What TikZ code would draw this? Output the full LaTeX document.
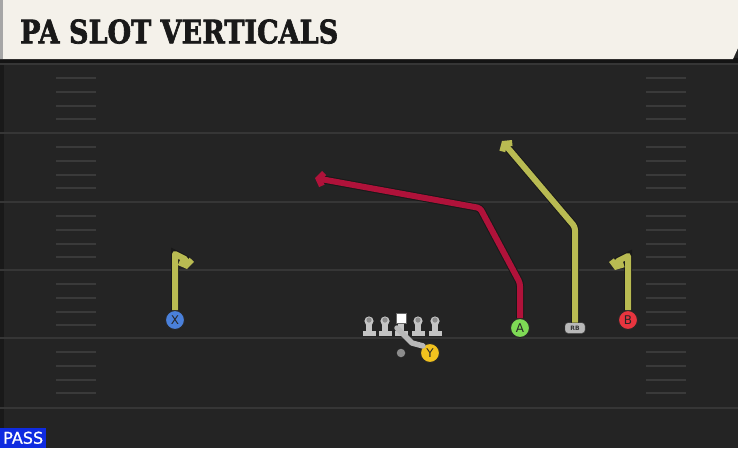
\documentclass[tikz,border=0pt]{standalone}
\usepackage{fontspec}
\setmainfont{DejaVu Sans}
\newfontfamily\titlefont{DejaVu Serif}[FakeBold=2.2]
\newfontfamily\passfont{DejaVu Sans}[FakeBold=0.8]
\usetikzlibrary{arrows.meta}
\definecolor{field}{HTML}{242424}
\definecolor{yardc}{HTML}{363636}
\definecolor{hashc}{HTML}{3A3A3A}
\definecolor{cream}{HTML}{F4F1EA}
\definecolor{yroute}{HTML}{B9BB52}
\definecolor{rroute}{HTML}{B0123A}
\definecolor{groute}{HTML}{B8B8B8}
\definecolor{xblue}{HTML}{4A80DA}
\definecolor{agreen}{HTML}{7EDA55}
\definecolor{bred}{HTML}{E8353F}
\definecolor{yyellow}{HTML}{F2C21E}
\definecolor{rbgrey}{HTML}{B8B8B8}
\definecolor{passblue}{HTML}{0F2BE0}
\definecolor{olc}{HTML}{C4C4C4}
\tikzset{
  yard/.style={draw=yardc, line width=2.2pt},
  hashmark/.style={draw=hashc, line width=1.8pt},
  player/.style={circle, draw=black!85, line width=1pt, minimum size=19pt, inner sep=0pt, text=black!85, font=\fontsize{12}{12}\selectfont},
  routebase/.style={line width=6pt, line join=round,
     preaction={draw=black!90, line width=8pt, arrows=-, shorten >=7pt}},
  yroutes/.style={routebase, draw=yroute},
  rroutes/.style={routebase, draw=rroute},
  tip/.style={-{Straight Barb[length=4.5pt,width=13pt]}}
}
\begin{document}
\begin{tikzpicture}[x=1pt,y=-1pt]
\useasboundingbox (0,0) rectangle (738,448);
\fill[field] (0,0) rectangle (738,448);
\fill[black!30!field] (0,63) rectangle (4,448);
% yard lines and hashes
\foreach \yy in {64,133,202,270,338,408} \draw[yard] (0,\yy) -- (738,\yy);
\foreach \s in {64,133,202,270,338}{
  \foreach \k in {14,28,42,55}{
    \draw[hashmark] (56,\s+\k) -- (96,\s+\k);
    \draw[hashmark] (646,\s+\k) -- (686,\s+\k);
  }
}
% header
\fill[black!92] (0,58) rectangle (738,63);
\fill[cream] (0,0) -- (738,0) -- (738,48) -- (733,59) -- (0,59) -- cycle;
\fill[black!35] (0,0) rectangle (3,59);
\node[anchor=south west, inner sep=0pt, text=black!90] (title) at (20,44)
  {\resizebox{318pt}{24pt}{\titlefont\bfseries PA SLOT VERTICALS}};
% offensive line
\foreach \xx in {369,385,418,435}{
  \fill[olc] (\xx-6.5,330.5) rectangle (\xx+6.5,336);
  \fill[olc] (\xx-2.6,321) rectangle (\xx+2.6,331);
  \fill[olc] (\xx,321) circle (4.6);
  \fill[black!45] (\xx,320) circle (2.6);
}
\fill[olc] (394.5,330.5) rectangle (407.5,336);
\fill[olc] (398.4,321) rectangle (403.6,331);
\node[draw=black!60, fill=white, minimum size=10pt, inner sep=0pt] (C) at (401,318) {};
\node[circle, fill=black!45, minimum size=8.5pt, inner sep=0pt] (QB) at (401,353) {};
% players
\node[player, fill=xblue] (X) at (175,320) {X};
\node[player, fill=agreen] (A) at (520,328) {A};
\node[player, fill=bred] (B) at (628,320) {B};
\node[player, fill=yyellow] (Y) at (430,353) {Y};
\node[draw=black!70, fill=rbgrey, rounded corners=3pt, minimum width=20pt, minimum height=10.5pt, inner sep=0pt, text=black!80, font=\fontsize{6}{6}\selectfont\bfseries] (RB) at (575,328) {RB};
% route end points
\coordinate (xend) at (187,269);
\coordinate (bend) at (615,270);
\coordinate (aend) at (315,178);
\coordinate (rbend) at (502,141);
\coordinate (yend) at (397,328);
% routes
\draw[yroutes, tip] (X.north) -- (175,254) -- (185,259) -- (xend);
\draw[yroutes, tip] (B.north) -- (628,256) -- (618,261) -- (bend);
\draw[rroutes, tip, rounded corners=3pt] (A.north) -- (520,283) -- (480,208) -- (aend);
\draw[yroutes, tip, rounded corners=3pt] (RB.north) -- (575,227) -- (rbend);
\draw[draw=groute, line width=5.5pt, line join=round, line cap=round] (Y.north west) -- (412,343) -- (yend);
% pass label
\node[fill=passblue, anchor=south west, minimum width=46pt, minimum height=20pt, inner sep=0pt, text=white] (pass) at (0,448)
  {\resizebox{40pt}{12pt}{\passfont PASS}};
\end{tikzpicture}
\end{document}
